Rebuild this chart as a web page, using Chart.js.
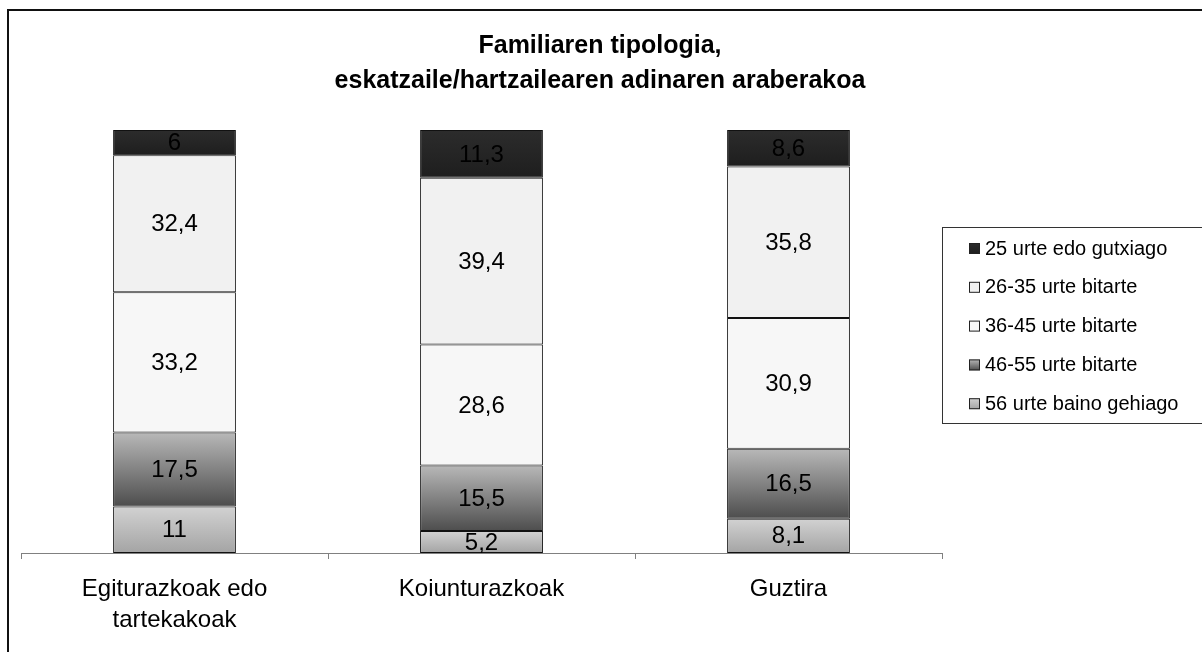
<!DOCTYPE html>
<html>
<head>
<meta charset="utf-8">
<script src="https://cdn.jsdelivr.net/npm/chart.js@4"></script>
<style>
  html, body { margin: 0; padding: 0; background: #fff; }
  #wrap { position: relative; width: 1202px; height: 652px; }
</style>
</head>
<body>
<div id="wrap"><canvas id="chart"></canvas></div>
<script>
const TITLE_LINES = ["Familiaren tipologia,", "eskatzaile/hartzailearen adinaren araberakoa"];
const CATEGORIES = [["Egiturazkoak edo", "tartekakoak"], "Koiunturazkoak", "Guztira"];

// bottom of the stack first
const AGE_56_PLUS = [11, 5.2, 8.1];
const AGE_46_55 = [17.5, 15.5, 16.5];
const AGE_36_45 = [33.2, 28.6, 30.9];
const AGE_26_35 = [32.4, 39.4, 35.8];
const AGE_25_UNDER = [6, 11.3, 8.6];

const FONT = "'Liberation Sans', Arial, sans-serif";

const series = [
  { label: "56 urte baino gehiago", values: AGE_56_PLUS, stops: ["#d2d2d2", "#a4a4a4"] },
  { label: "46-55 urte bitarte", values: AGE_46_55, stops: ["#b8b8b8", "#4d4d4d"] },
  { label: "36-45 urte bitarte", values: AGE_36_45, stops: ["#f7f7f7", "#f7f7f7"] },
  { label: "26-35 urte bitarte", values: AGE_26_35, stops: ["#f1f1f1", "#f1f1f1"] },
  { label: "25 urte edo gutxiago", values: AGE_25_UNDER, stops: ["#2c2c2c", "#1e1e1e"] },
];

// the bars are a 100% stack, so each column is scaled to its own total
const totals = CATEGORIES.map((_, i) => series.reduce((s, d) => s + d.values[i], 0));
const shares = series.map((d) => d.values.map((v, i) => (v / totals[i]) * 100));

function segmentFill(k) {
  return (ctx) => {
    const { chart, dataIndex } = ctx;
    const y = chart.scales.y;
    if (!chart.chartArea || !y || ctx.type !== "data") return series[k].stops[0];
    let start = 0;
    for (let j = 0; j < k; j++) start += shares[j][dataIndex];
    const top = y.getPixelForValue(start + shares[k][dataIndex]);
    const bottom = y.getPixelForValue(start);
    const g = chart.ctx.createLinearGradient(0, top, 0, bottom);
    g.addColorStop(0, series[k].stops[0]);
    g.addColorStop(1, series[k].stops[1]);
    return g;
  };
}

const fmt = (v) => String(v).replace(".", ",");

const decorations = {
  id: "decorations",
  afterDatasetsDraw(chart) {
    const { ctx } = chart;
    ctx.save();
    ctx.fillStyle = "#000";
    ctx.font = `24px ${FONT}`;
    ctx.textAlign = "center";
    ctx.textBaseline = "middle";
    series.forEach((d, k) => {
      chart.getDatasetMeta(k).data.forEach((el, i) => {
        const p = el.getCenterPoint();
        ctx.fillText(fmt(d.values[i]), p.x, p.y + 1);
      });
    });
    ctx.restore();
  },
  afterDraw(chart) {
    const { ctx } = chart;
    ctx.save();
    // outer frame
    ctx.fillStyle = "#111";
    ctx.fillRect(7, 9, 2, 700);
    ctx.fillRect(7, 9, 1300, 2);

    // title
    ctx.fillStyle = "#000";
    ctx.font = `bold 25px ${FONT}`;
    ctx.textAlign = "center";
    ctx.textBaseline = "middle";
    TITLE_LINES.forEach((t, i) => ctx.fillText(t, 600, 46 + i * 35));

    // legend box
    ctx.strokeStyle = "#333";
    ctx.lineWidth = 1;
    ctx.strokeRect(942.5, 227.5, 300, 196);
    ctx.font = `20px ${FONT}`;
    ctx.textAlign = "left";
    [...series].reverse().forEach((d, row) => {
      const cy = 248 + row * 38.8;
      const g = ctx.createLinearGradient(0, cy - 5, 0, cy + 6);
      g.addColorStop(0, d.stops[0]);
      g.addColorStop(1, d.stops[1]);
      ctx.fillStyle = g;
      ctx.fillRect(969, cy - 5, 11, 11);
      ctx.strokeStyle = "#222";
      ctx.strokeRect(969.5, cy - 4.5, 10, 10);
      ctx.fillStyle = "#000";
      ctx.fillText(d.label, 985, cy + 1);
    });
    ctx.restore();
  },
};

new Chart(document.getElementById("chart"), {
  type: "bar",
  data: {
    labels: CATEGORIES,
    datasets: series.map((d, k) => ({
      label: d.label,
      data: shares[k],
      backgroundColor: segmentFill(k),
      borderColor: "#111",
      borderWidth: 1,
      borderSkipped: false,
      barPercentage: 0.4,
      categoryPercentage: 1,
    })),
  },
  options: {
    responsive: true,
    maintainAspectRatio: false,
    animation: false,
    layout: { padding: { left: 21, right: 260, top: 130, bottom: 0 } },
    scales: {
      x: {
        stacked: true,
        grid: { display: true, drawOnChartArea: false, tickLength: 6, color: "#808080" },
        border: { display: true, color: "#808080", width: 1 },
        ticks: { color: "#000", font: { family: FONT, size: 24, lineHeight: 1.3 }, padding: 15, maxRotation: 0 },
        afterFit: (s) => { s.height = 99; },
      },
      y: { stacked: true, display: false, min: 0, max: 100 },
    },
    plugins: { legend: { display: false }, tooltip: { enabled: false } },
  },
  plugins: [decorations],
});
</script>
</body>
</html>
